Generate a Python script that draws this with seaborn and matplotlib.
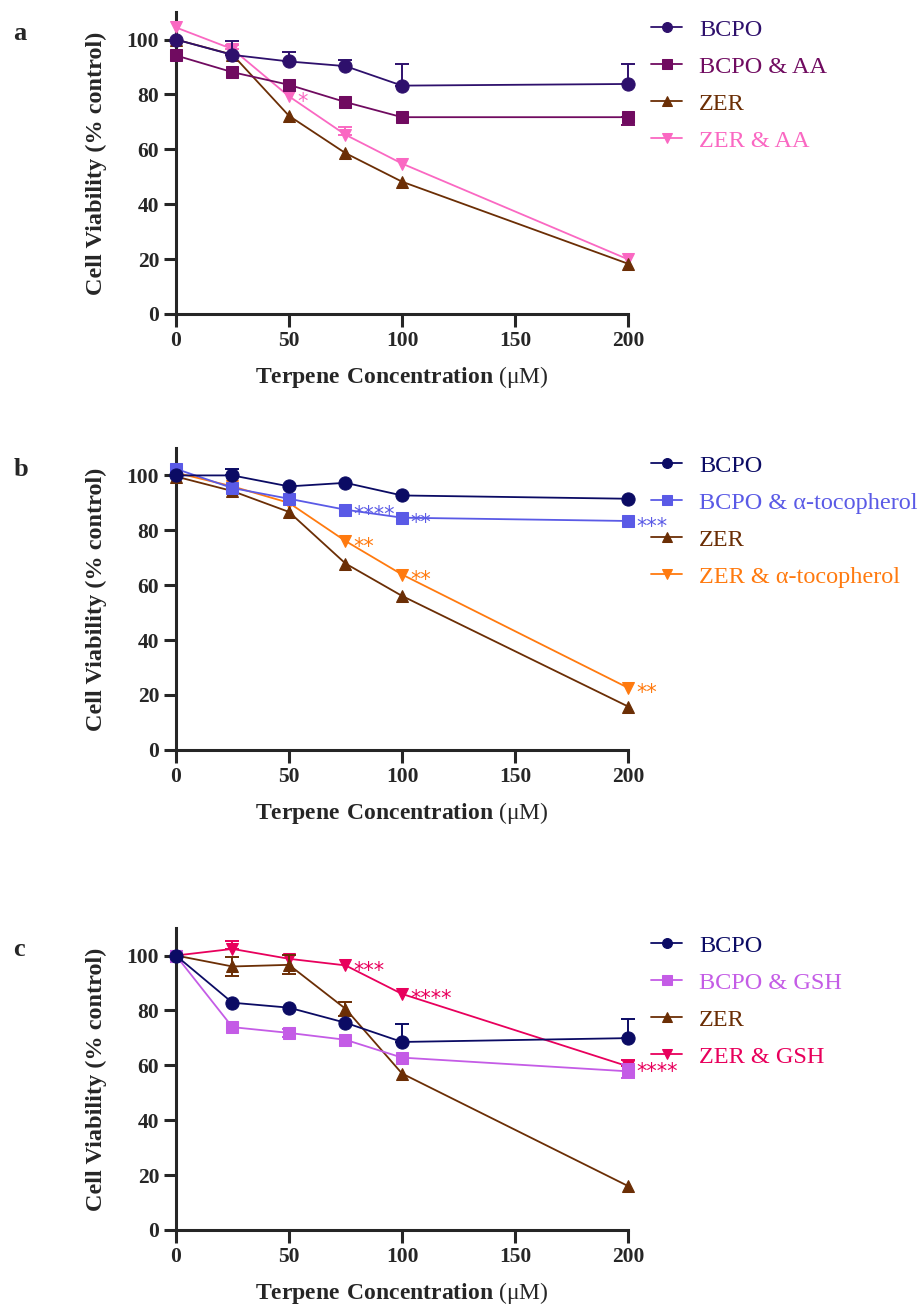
import numpy as np
import pandas as pd
import seaborn as sns
import matplotlib.pyplot as plt

sns.set_style('ticks')
plt.rcParams['font.family'] = ['Liberation Serif', 'DejaVu Serif']
plt.rcParams['mathtext.fontset'] = 'custom'
plt.rcParams['mathtext.rm'] = 'Liberation Serif'
plt.rcParams['mathtext.bf'] = 'Liberation Serif:bold'

conc = [0, 25, 50, 75, 100, 200]

# panel a - ascorbic acid
a_labels = ['BCPO', 'BCPO & AA', 'ZER', 'ZER & AA']
a_colors = ['#2E106C', '#700B60', '#6B2E05', '#FA68C2']
a_bcpo = [100, 94.4, 92.0, 90.3, 83.2, 83.8]
a_bcpo_aa = [94.2, 88.1, 83.5, 77.2, 71.7, 71.7]
a_zer = [100, 94.5, 72.2, 58.6, 48.2, 18.3]
a_zer_aa = [104.4, 96.5, 79.3, 65.3, 54.8, 19.9]
a_err_up = [[0, 5.0, 3.6, 2.4, 8.0, 7.2], [0, 0, 0, 0, 0, 0],
            [0, 0, 0, 0, 0, 0], [0, 1.5, 0, 2.7, 0, 0]]
a_err_down = [[0, 0, 0, 0, 0, 0], [0, 0, 0, 0, 0, 2.7],
              [0, 0, 0, 0, 0, 0], [0, 0, 0, 0, 0, 0]]
a_stars = [(3, 50, '*')]

# panel b - alpha-tocopherol
b_labels = ['BCPO', 'BCPO & α-tocopherol', 'ZER', 'ZER & α-tocopherol']
b_colors = ['#0B0B64', '#5A5AE6', '#6B2E05', '#FF7A0F']
b_bcpo = [100, 100, 96.0, 97.3, 92.7, 91.5]
b_bcpo_toc = [102.4, 95.4, 91.5, 87.5, 84.6, 83.4]
b_zer = [99.6, 94.3, 86.7, 67.9, 56.1, 15.8]
b_zer_toc = [101, 96.0, 90.0, 76.1, 63.9, 22.6]
b_err_up = [[0, 2.2, 0, 0, 0, 0], [0, 0, 0, 0, 0, 0],
            [0, 0, 0, 0, 0, 0], [0, 0, 0, 0, 0, 0]]
b_err_down = [[0, 0, 0, 0, 0, 0], [0, 0, 0, 0, 0, 0],
              [0, 0, 0, 0, 0, 0], [0, 0, 0, 0, 0, 0]]
b_stars = [(1, 75, '****'), (1, 100, '**'), (1, 200, '***'),
           (3, 75, '**'), (3, 100, '**'), (3, 200, '**')]

# panel c - glutathione
c_labels = ['BCPO', 'BCPO & GSH', 'ZER', 'ZER & GSH']
c_colors = ['#0B0B64', '#C45CE6', '#6B2E05', '#E8005C']
c_bcpo = [100, 82.8, 81.0, 75.5, 68.5, 69.9]
c_bcpo_gsh = [100, 73.9, 71.8, 69.3, 62.8, 57.8]
c_zer = [100, 96.0, 96.6, 80.6, 57.0, 16.0]
c_zer_gsh = [100, 102.4, 98.8, 96.4, 86.0, 59.6]
c_err_up = [[0, 0, 0, 0, 6.7, 6.8], [0, 0, 1.5, 0, 0, 2.5],
            [0, 3.3, 3.5, 2.5, 0, 0], [0, 3.0, 0, 0, 0, 2.2]]
c_err_down = [[0, 0, 0, 0, 0, 0], [0, 0, 1.5, 0, 0, 2.5],
              [0, 3.3, 3.5, 2.5, 0, 0], [0, 0, 0, 0, 0, 0]]
c_stars = [(3, 75, '***'), (3, 100, '****'), (3, 200, '****')]

markers = ['o', 's', '^', 'v']
msizes = [9.5, 9, 9, 9]


def draw_panel(ax, letter, labels, colors, series, err_up, err_down, stars):
    # last series drawn first so BCPO ends up on top
    for i in reversed(range(4)):
        c = colors[i]
        z = 10 - 2 * i
        up = np.array(err_up[i])
        dn = np.array(err_down[i])
        keep = (up > 0) | (dn > 0)
        if keep.any():
            ax.errorbar(np.array(conc)[keep], np.array(series[i])[keep],
                        yerr=[dn[keep], up[keep]], fmt='none', ecolor=c,
                        elinewidth=1.4, capsize=5, capthick=1.4,
                        zorder=z - 1, clip_on=False)
        sns.lineplot(x=conc, y=series[i], ax=ax, color=c, marker=markers[i],
                     markersize=msizes[i], markeredgecolor=c, linewidth=1.3,
                     label=labels[i], zorder=z, clip_on=False)
    h, l = ax.get_legend_handles_labels()
    lookup = dict(zip(l, h))
    ax.legend([lookup[t] for t in labels], labels, loc='upper left',
              bbox_to_anchor=(1.05, 0.978), frameon=False, borderaxespad=0,
              borderpad=0, fontsize=17.5, handlelength=1.3,
              handletextpad=0.7, labelspacing=0.62, markerscale=0.75,
              labelcolor='linecolor')

    for idx, xv, txt in stars:
        yv = series[idx][conc.index(xv)]
        ax.annotate(txt, xy=(xv, yv), xytext=(6, -4), textcoords='offset points',
                    color=colors[idx], fontsize=15, va='center', ha='left',
                    family='DejaVu Sans', annotation_clip=False, zorder=20)

    ax.set_xlim(0, 200)
    ax.set_ylim(0, 110)
    ax.set_xticks([0, 50, 100, 150, 200])
    ax.set_yticks([0, 20, 40, 60, 80, 100])
    ax.tick_params(axis='both', length=9, width=2.2, labelsize=15.5, pad=3)
    for t in ax.get_xticklabels() + ax.get_yticklabels():
        t.set_fontweight('bold')
    sns.despine(ax=ax)
    for s in ['left', 'bottom']:
        ax.spines[s].set_linewidth(2.2)
    ax.set_ylabel('Cell Viability (% control)', fontsize=17.5, fontweight='bold')
    ax.yaxis.set_label_coords(-0.153, 0.5)
    ax.set_xlabel(r'$\mathbf{Terpene\ Concentration}$ (μM)', fontsize=17)
    ax.xaxis.set_label_coords(0.5, -0.165)
    ax.text(-0.36, 0.93, letter, transform=ax.transAxes, fontsize=19,
            fontweight='bold', ha='left', va='center')


fig = plt.figure(figsize=(9.21, 13.11), dpi=100)
ax_a = fig.add_axes([0.191, 0.7605, 0.491, 0.2303])
ax_b = fig.add_axes([0.191, 0.428, 0.491, 0.2303])
ax_c = fig.add_axes([0.191, 0.0618, 0.491, 0.2303])

draw_panel(ax_a, 'a', a_labels, a_colors, [a_bcpo, a_bcpo_aa, a_zer, a_zer_aa],
           a_err_up, a_err_down, a_stars)
draw_panel(ax_b, 'b', b_labels, b_colors, [b_bcpo, b_bcpo_toc, b_zer, b_zer_toc],
           b_err_up, b_err_down, b_stars)
draw_panel(ax_c, 'c', c_labels, c_colors, [c_bcpo, c_bcpo_gsh, c_zer, c_zer_gsh],
           c_err_up, c_err_down, c_stars)

fig.savefig('out.png', dpi=100)
